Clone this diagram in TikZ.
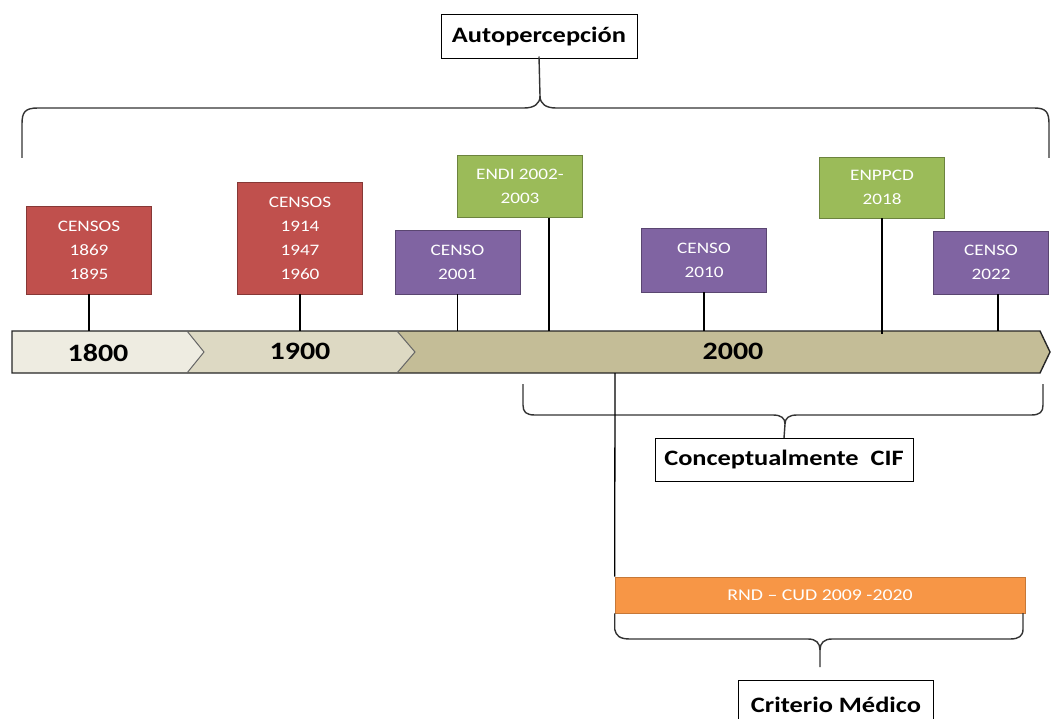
\documentclass[tikz,border=0pt]{standalone}
\usepackage{fontspec}
\setmainfont[FakeStretch=1.2]{Carlito}
\begin{document}
\begin{tikzpicture}[x=1pt,y=-1pt,
  evbox/.style={draw=#1!70!black, line width=0.8pt, minimum width=125pt, align=center, text=white,
     font=\fontsize{16}{24}\selectfont, inner sep=0pt},
  redbox/.style={evbox=cred, fill=cred},
  greenbox/.style={evbox=cgreen, fill=cgreen},
  purplebox/.style={evbox=cpurple, fill=cpurple},
  labelbox/.style={draw=black, line width=1pt, fill=white, font=\bfseries\fontsize{22}{26}\selectfont, inner sep=0pt},
  stem/.style={line width=1.3pt, black},
  brace/.style={line width=1.4pt, draw=black!80},
  chev/.style={draw=black!85, line width=1.4pt, line join=miter},
  yearlbl/.style={font=\bfseries\fontsize{25}{28}\selectfont}
]
\definecolor{cred}{HTML}{C0504D}
\definecolor{cgreen}{HTML}{9BBB59}
\definecolor{cpurple}{HTML}{8064A2}
\definecolor{corange}{HTML}{F79646}
\definecolor{seg1}{HTML}{EEECE1}
\definecolor{seg2}{HTML}{DDD9C3}
\definecolor{seg3}{HTML}{C4BD97}
\useasboundingbox (0,0) rectangle (1051,719);

% timeline bar
\coordinate (bartop) at (0,331);
\coordinate (barbot) at (0,373);
\fill[seg1] (12,331) -- (187,331) -- (204,352) -- (187,373) -- (12,373) -- cycle;
\fill[seg2] (187,331) -- (397,331) -- (415,352) -- (397,373) -- (187,373) -- (204,352) -- cycle;
\fill[seg3] (397,331) -- (1040,331) -- (1050,352) -- (1040,373) -- (397,373) -- (415,352) -- cycle;
\draw[chev] (12,331) -- (1040,331) -- (1050,352) -- (1040,373) -- (12,373) -- cycle;
\draw[chev, line width=1pt, draw=black!60] (187,331) -- (204,352) -- (187,373);
\draw[chev, line width=1pt, draw=black!60] (397,331) -- (415,352) -- (397,373);
\node[yearlbl] (y1800) at (98,353) {1800};
\node[yearlbl] (y1900) at (300,351) {1900};
\node[yearlbl] (y2000) at (733,351) {2000};

% event boxes
\node[redbox, minimum height=88pt] (c1) at (89,250) {CENSOS\\1869\\1895};
\node[redbox, minimum height=112pt] (c2) at (300,238) {CENSOS\\1914\\1947\\1960};
\node[purplebox, minimum height=64pt] (c3) at (457.5,262) {CENSO\\2001};
\node[greenbox, minimum height=62pt] (e1) at (520,186.5) {ENDI 2002-\\2003};
\node[purplebox, minimum height=64pt] (c4) at (704,260) {CENSO\\2010};
\node[greenbox, minimum height=61pt] (e2) at (882,187.5) {ENPPCD\\2018};
\node[purplebox, minimum height=63pt, minimum width=115pt] (c5) at (991,262.5) {CENSO\\2022};

\draw[stem] (c1.south) -- (c1.south |- bartop);
\draw[stem] (c2.south) -- (c2.south |- bartop);
\draw[stem] (c3.south) -- (c3.south |- bartop);
\draw[stem] ([xshift=29pt]e1.south) -- ([xshift=29pt]e1.south |- bartop);
\draw[stem] (c4.south) -- (c4.south |- bartop);
\draw[stem] (e2.south) -- ([yshift=-3pt]e2.south |- bartop);
\draw[stem] ([xshift=7pt]c5.south) -- ([xshift=7pt]c5.south |- bartop);

% top label and brace
\node[labelbox, minimum width=196pt, minimum height=44pt] (auto) at (539,37) {Autopercepción};
\draw[brace] (22,158) -- (22,124) .. controls (22,112) and (25,108) .. (38,108) -- (524,108)
  .. controls (534,108) and (540,104) .. (540,96) -- ([yshift=3pt]auto.south);
\draw[brace] (540,96) .. controls (540,104) and (546,108) .. (556,108) -- (1034,108)
  .. controls (1046,108) and (1049,112) .. (1049,124) -- (1049,158);

% CIF brace
\node[labelbox, minimum width=258pt, minimum height=43pt] (cif) at (784,460) {Conceptualmente\ \ CIF};
\draw[brace] (523,384) -- (523,405) .. controls (523,412) and (526,415) .. (535,415) -- (773,415)
  .. controls (781,415) and (785,418) .. (785,424) -- (cif.north);
\draw[brace] (785,424) .. controls (785,418) and (789,415) .. (797,415) -- (1031,415)
  .. controls (1040,415) and (1043,412) .. (1043,405) -- (1043,384);

% medical criterion
\node[draw=corange!80!black, line width=0.6pt, fill=corange, minimum width=410pt, minimum height=36pt,
  text=white, font=\fontsize{16.5}{18}\selectfont, inner sep=0pt] (rnd) at (820,595) {RND -- CUD 2009 -2020};
\draw[stem] (615,373) -- (rnd.north west);
\node[labelbox, minimum width=195pt, minimum height=48pt, anchor=north] (med) at (836,680) {Criterio Médico};
\draw[brace] (rnd.south west) -- ([yshift=-16pt]rnd.south west) .. controls (616,636) and (620,639) .. (630,639) -- (808,639)
  .. controls (816,639) and (820,643) .. (820,650) -- (820,667);
\draw[brace] (820,650) .. controls (820,643) and (824,639) .. (832,639) -- (1010,639)
  .. controls (1019,639) and (1023,636) .. (1023,629) -- (1023,613);
\end{tikzpicture}
\end{document}
